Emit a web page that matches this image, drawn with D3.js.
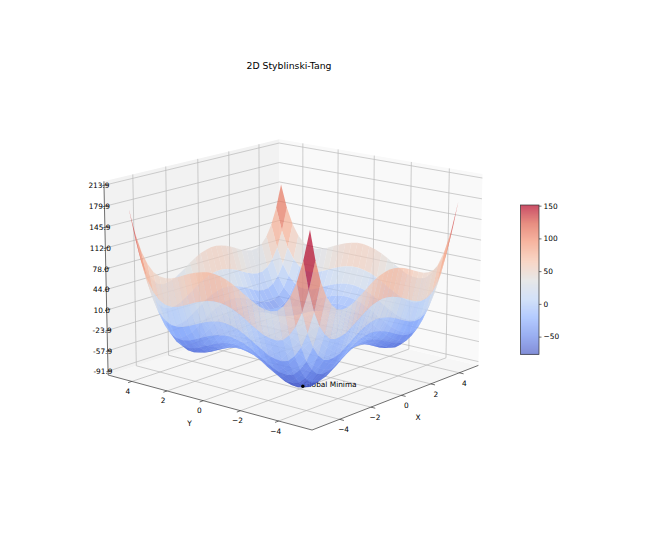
<!DOCTYPE html>
<html><head><meta charset="utf-8">
<script src="https://cdn.jsdelivr.net/npm/d3@7"></script>
<style>html,body{margin:0;padding:0;background:#fff}svg{display:block}text{font-family:"DejaVu Sans",sans-serif;fill:#000}</style>
</head><body><div id="chart"></div>
<script>
const gridXY=[-5,-4.667,-4.333,-4,-3.667,-3.333,-3,-2.667,-2.333,-2,-1.667,-1.333,-1,-0.667,-0.333,0,0.333,0.667,1,1.333,1.667,2,2.333,2.667,3,3.333,3.667,4,4.333,4.667];
const surfaceZ=[
[200,151,115,90,74,64,61,62,65,71,77,84,90,95,98,100,100,98,95,91,86,81,77,75,76,81,92,110,137,175],
[151,102,66,41,25,15,12,13,16,22,28,35,41,46,49,51,51,49,46,42,37,32,28,26,27,32,43,61,88,126],
[115,66,30,5,-11,-21,-24,-23,-20,-14,-8,-1,5,10,13,15,15,13,10,6,1,-4,-8,-10,-9,-4,7,25,52,90],
[90,41,5,-20,-36,-46,-49,-48,-45,-39,-33,-26,-20,-15,-12,-10,-10,-12,-15,-19,-24,-29,-33,-35,-34,-29,-18,0,27,65],
[74,25,-11,-36,-52,-62,-65,-64,-61,-55,-49,-42,-36,-31,-28,-26,-26,-28,-31,-35,-40,-45,-49,-51,-50,-45,-34,-16,11,49],
[64,15,-21,-46,-62,-72,-75,-74,-71,-65,-59,-52,-46,-41,-38,-36,-36,-38,-41,-45,-50,-55,-59,-61,-60,-55,-44,-26,1,39],
[61,12,-24,-49,-65,-75,-78,-77,-74,-68,-62,-55,-49,-44,-41,-39,-39,-41,-44,-48,-53,-58,-62,-64,-63,-58,-47,-29,-2,36],
[62,13,-23,-48,-64,-74,-77,-76,-73,-67,-61,-54,-48,-43,-40,-38,-38,-40,-43,-47,-52,-57,-61,-63,-62,-57,-46,-28,-1,37],
[65,16,-20,-45,-61,-71,-74,-73,-70,-64,-58,-51,-45,-40,-37,-35,-35,-37,-40,-44,-49,-54,-58,-60,-59,-54,-43,-25,2,40],
[71,22,-14,-39,-55,-65,-68,-67,-64,-58,-52,-45,-39,-34,-31,-29,-29,-31,-34,-38,-43,-48,-52,-54,-53,-48,-37,-19,8,46],
[77,28,-8,-33,-49,-59,-62,-61,-58,-52,-46,-39,-33,-28,-25,-23,-23,-25,-28,-32,-37,-42,-46,-48,-47,-42,-31,-13,14,52],
[84,35,-1,-26,-42,-52,-55,-54,-51,-45,-39,-32,-26,-21,-18,-16,-16,-18,-21,-25,-30,-35,-39,-41,-40,-35,-24,-6,21,59],
[90,41,5,-20,-36,-46,-49,-48,-45,-39,-33,-26,-20,-15,-12,-10,-10,-12,-15,-19,-24,-29,-33,-35,-34,-29,-18,0,27,65],
[95,46,10,-15,-31,-41,-44,-43,-40,-34,-28,-21,-15,-10,-7,-5,-5,-7,-10,-14,-19,-24,-28,-30,-29,-24,-13,5,32,70],
[98,49,13,-12,-28,-38,-41,-40,-37,-31,-25,-18,-12,-7,-4,-2,-2,-4,-7,-11,-16,-21,-25,-27,-26,-21,-10,8,35,73],
[100,51,15,-10,-26,-36,-39,-38,-35,-29,-23,-16,-10,-5,-2,0,0,-2,-5,-9,-14,-19,-23,-25,-24,-19,-8,10,37,75],
[100,51,15,-10,-26,-36,-39,-38,-35,-29,-23,-16,-10,-5,-2,0,0,-2,-5,-9,-14,-19,-23,-25,-24,-19,-8,10,37,75],
[98,49,13,-12,-28,-38,-41,-40,-37,-31,-25,-18,-12,-7,-4,-2,-2,-4,-7,-11,-16,-21,-25,-27,-26,-21,-10,8,35,73],
[95,46,10,-15,-31,-41,-44,-43,-40,-34,-28,-21,-15,-10,-7,-5,-5,-7,-10,-14,-19,-24,-28,-30,-29,-24,-13,5,32,70],
[91,42,6,-19,-35,-45,-48,-47,-44,-38,-32,-25,-19,-14,-11,-9,-9,-11,-14,-18,-23,-28,-32,-34,-33,-28,-17,1,28,66],
[86,37,1,-24,-40,-50,-53,-52,-49,-43,-37,-30,-24,-19,-16,-14,-14,-16,-19,-23,-28,-33,-37,-39,-38,-33,-22,-4,23,61],
[81,32,-4,-29,-45,-55,-58,-57,-54,-48,-42,-35,-29,-24,-21,-19,-19,-21,-24,-28,-33,-38,-42,-44,-43,-38,-27,-9,18,56],
[77,28,-8,-33,-49,-59,-62,-61,-58,-52,-46,-39,-33,-28,-25,-23,-23,-25,-28,-32,-37,-42,-46,-48,-47,-42,-31,-13,14,52],
[75,26,-10,-35,-51,-61,-64,-63,-60,-54,-48,-41,-35,-30,-27,-25,-25,-27,-30,-34,-39,-44,-48,-50,-49,-44,-33,-15,12,50],
[76,27,-9,-34,-50,-60,-63,-62,-59,-53,-47,-40,-34,-29,-26,-24,-24,-26,-29,-33,-38,-43,-47,-49,-48,-43,-32,-14,13,51],
[81,32,-4,-29,-45,-55,-58,-57,-54,-48,-42,-35,-29,-24,-21,-19,-19,-21,-24,-28,-33,-38,-42,-44,-43,-38,-27,-9,18,56],
[92,43,7,-18,-34,-44,-47,-46,-43,-37,-31,-24,-18,-13,-10,-8,-8,-10,-13,-17,-22,-27,-31,-33,-32,-27,-16,2,29,67],
[110,61,25,0,-16,-26,-29,-28,-25,-19,-13,-6,0,5,8,10,10,8,5,1,-4,-9,-13,-15,-14,-9,2,20,47,85],
[137,88,52,27,11,1,-2,-1,2,8,14,21,27,32,35,37,37,35,32,28,23,18,14,12,13,18,29,47,74,112],
[175,126,90,65,49,39,36,37,40,46,52,59,65,70,73,75,75,73,70,66,61,56,52,50,51,56,67,85,112,150]
];
const xyTicks=[-4,-2,0,2,4];
const zTicks=[-91.9,-57.9,-23.9,10.0,44.0,78.0,112.0,145.9,179.9,213.9];
const zTickLabels=["-91.9","-57.9","-23.9","10.0","44.0","78.0","112.0","145.9","179.9","213.9"];
const cbarTicks=[-50,0,50,100,150];
const minimaPoint=[-2.903,-2.903,-78.33];
const minimaLabel="Global Minima";
const titleText="2D Styblinski-Tang";
const coolwarmStops=[0,.125,.25,.375,.5,.625,.75,.875,1];
const coolwarmColors=["#3b4cc0","#6282ea","#8db0fe","#c0d4f5","#dddddd","#f5c4ad","#f4987a","#de604d","#b40426"];

const W=664,H=554;
const svg=d3.select("#chart").append("svg").attr("width",W).attr("height",H).attr("viewBox",`0 0 ${W} ${H}`);
const defs=svg.append("defs");
defs.append("filter").attr("id","soft").attr("x","-5%").attr("y","-5%").attr("width","110%").attr("height","110%")
  .append("feGaussianBlur").attr("stdDeviation",0.4);

// view
const elev=15*Math.PI/180,azim=-140*Math.PI/180;
const DIST=10,S=2325,CX=294.5,CY=275;
const XMIN=-5.705,XMAX=5.372,ZMIN=-98.3,ZMAX=220.3;
const BX=1.143,BZ=0.857;
const sx=d3.scaleLinear().domain([XMIN,XMAX]).range([-BX/2,BX/2]);
const sy=sx.copy();
const sz=d3.scaleLinear().domain([ZMIN,ZMAX]).range([-BZ/2,BZ/2]);
const w=[Math.cos(elev)*Math.cos(azim),Math.cos(elev)*Math.sin(azim),Math.sin(elev)];
const u=[-Math.sin(azim),Math.cos(azim),0];
const v=[w[1]*u[2]-w[2]*u[1],w[2]*u[0]-w[0]*u[2],w[0]*u[1]-w[1]*u[0]];
const dot=(a,b)=>a[0]*b[0]+a[1]*b[1]+a[2]*b[2];
function proj(x,y,z){
  const p=[sx(x),sy(y),sz(z)];
  const d=DIST-dot(p,w);
  return {x:CX+S*dot(p,u)/d,y:CY-S*dot(p,v)/d,d};
}
const pts=a=>a.map(p=>{const q=proj(...p);return q.x+","+q.y}).join(" ");
const seg=(g,a,b,col,sw)=>{const p=proj(...a),q=proj(...b);
  g.append("line").attr("x1",p.x).attr("y1",p.y).attr("x2",q.x).attr("y2",q.y).attr("stroke",col).attr("stroke-width",sw)};

// panes
const panes=svg.append("g");
panes.append("polygon").attr("points",pts([[XMIN,XMIN,ZMIN],[XMAX,XMIN,ZMIN],[XMAX,XMAX,ZMIN],[XMIN,XMAX,ZMIN]])).attr("fill","#f6f6f6");
panes.append("polygon").attr("points",pts([[XMAX,XMIN,ZMIN],[XMAX,XMAX,ZMIN],[XMAX,XMAX,ZMAX],[XMAX,XMIN,ZMAX]])).attr("fill","#f9f9f9");
panes.append("polygon").attr("points",pts([[XMIN,XMAX,ZMIN],[XMAX,XMAX,ZMIN],[XMAX,XMAX,ZMAX],[XMIN,XMAX,ZMAX]])).attr("fill","#f2f2f2");

// grid
const grid=svg.append("g");
const GC="#b9b9b9",GW=0.7;
xyTicks.forEach(t=>{
  seg(grid,[t,XMIN,ZMIN],[t,XMAX,ZMIN],GC,GW);
  seg(grid,[t,XMAX,ZMIN],[t,XMAX,ZMAX],GC,GW);
  seg(grid,[XMIN,t,ZMIN],[XMAX,t,ZMIN],GC,GW);
  seg(grid,[XMAX,t,ZMIN],[XMAX,t,ZMAX],GC,GW);
});
zTicks.forEach(t=>{
  seg(grid,[XMIN,XMAX,t],[XMAX,XMAX,t],GC,GW);
  seg(grid,[XMAX,XMIN,t],[XMAX,XMAX,t],GC,GW);
});

// axes
const axes=svg.append("g");
const AC="#333",AW=0.7;
seg(axes,[XMIN,XMIN,ZMIN],[XMAX,XMIN,ZMIN],AC,AW);
seg(axes,[XMIN,XMIN,ZMIN],[XMIN,XMAX,ZMIN],AC,AW);
seg(axes,[XMIN,XMAX,ZMIN],[XMIN,XMAX,ZMAX],AC,AW);
const FS=7.4;
const label=(t,x,y,fs=FS,a="middle")=>svg.append("text").attr("x",x).attr("y",y).attr("font-size",fs).attr("text-anchor",a).text(t);
const minus=t=>String(t).replace("-","\u2212");
xyTicks.forEach(t=>{
  seg(axes,[t,XMIN,ZMIN],[t,XMIN-0.22,ZMIN],AC,AW);
  seg(axes,[XMIN,t,ZMIN],[XMIN-0.22,t,ZMIN],AC,AW);
  const a=proj(t,XMIN,ZMIN); label(minus(t),a.x+(t<0?4:5),a.y+13);
  const b=proj(XMIN,t,ZMIN); label(minus(t),b.x-(t<0?3:4),b.y+12.5);
});
zTicks.forEach((t,i)=>{
  seg(axes,[XMIN-0.1,XMAX,t],[XMIN+0.22,XMAX,t],AC,AW);
  const a=proj(XMIN,XMAX,t); label(zTickLabels[i],a.x-5,a.y+2.7);
});
label("X",418,419.5);label("Y",189.5,426);

// minima label sits below the surface
const m=proj(...minimaPoint);
svg.append("text").attr("x",m.x+1).attr("y",m.y+0.5).attr("font-size",FS).text(minimaLabel);

// surface
const cells=[];
for(let i=0;i<gridXY.length-1;i++)for(let j=0;j<gridXY.length-1;j++){
  const c=[[i,j],[i+1,j],[i+1,j+1],[i,j+1]].map(([a,b])=>[gridXY[a],gridXY[b],surfaceZ[a][b]]);
  const avg=d3.mean(c,d=>d[2]);
  const depth=d3.mean(c,d=>proj(...d).d);
  cells.push({c,avg,depth});
}
const [vmin,vmax]=d3.extent(cells,d=>d.avg);
const norm=d3.scaleLinear().domain([vmin,vmax]).range([0,1]);
const cmap=d3.scaleLinear().domain(coolwarmStops).range(coolwarmColors);
cells.sort((a,b)=>b.depth-a.depth);
svg.append("g").attr("filter","url(#soft)").selectAll("polygon").data(cells).join("polygon")
  .attr("points",d=>pts(d.c)).attr("fill",d=>cmap(norm(d.avg))).attr("fill-opacity",0.7);
svg.append("circle").attr("cx",m.x).attr("cy",m.y).attr("r",1.7).attr("fill","#000");

// colourbar (opaque blend of the colormap at the surface's 0.7 alpha, so overlapping strips do not darken)
const cbY=d3.scaleLinear().domain([vmin,vmax]).range([354.3,205]);
const cb=svg.append("g");
const steps=d3.range(150);
cb.selectAll("rect").data(steps).join("rect").attr("x",520.5).attr("width",18.5)
  .attr("y",i=>cbY(vmin+(vmax-vmin)*(i+1)/150)).attr("height",1.4)
  .attr("fill",i=>d3.interpolateRgb("#ffffff",cmap((i+.5)/150))(0.7));
cb.append("rect").attr("x",520.5).attr("y",205).attr("width",18.5).attr("height",149.3).attr("fill","none").attr("stroke","#333").attr("stroke-width",0.7);
const axisG=cb.append("g").attr("transform","translate(539,0)").call(d3.axisRight(cbY).tickValues(cbarTicks).tickSize(2.5).tickPadding(2).tickFormat(minus));
axisG.select(".domain").remove();
axisG.selectAll("line").attr("stroke","#333").attr("stroke-width",0.7);
axisG.selectAll("text").attr("font-size",FS).style("font-family",'"DejaVu Sans",sans-serif');

label(titleText,289,69,9.3);
</script></body></html>
